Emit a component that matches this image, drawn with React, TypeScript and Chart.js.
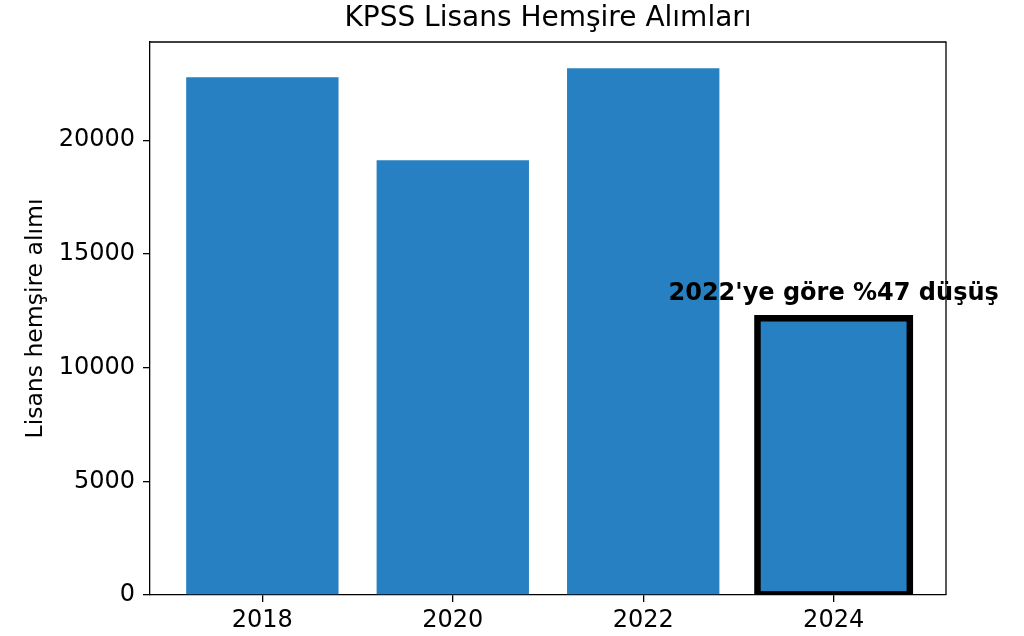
import React, { useEffect, useRef } from "react";
import { Chart, registerables } from "chart.js";

Chart.register(...registerables);

const titleText = "KPSS Lisans Hemşire Alımları";
const yAxisLabel = "Lisans hemşire alımı";
const years = ["2018", "2020", "2022", "2024"];
const hires = [22770, 19120, 23170, 12170];
const yTicks = [0, 5000, 10000, 15000, 20000];
const annotationText = "2022'ye göre %47 düşüş";
const highlightIndex = 3;

const FONT = "'DejaVu Sans', sans-serif";

export default function App() {
  const ref = useRef<HTMLCanvasElement | null>(null);

  useEffect(() => {
    const canvas = ref.current;
    if (!canvas) return;
    document.body.style.margin = "0";

    const overlay = {
      id: "overlay",
      afterDatasetsDraw(chart: any) {
        const ctx = chart.ctx;
        const meta = chart.getDatasetMeta(0);
        const el: any = meta.data[highlightIndex];
        if (el) {
          const p = el.getProps(["x", "y", "base", "width"], true);
          ctx.save();
          ctx.beginPath();
          ctx.rect(chart.chartArea.left, chart.chartArea.top, chart.chartArea.right - chart.chartArea.left, chart.chartArea.bottom - chart.chartArea.top);
          ctx.clip();
          ctx.strokeStyle = "#000";
          ctx.lineWidth = 6.5;
          ctx.strokeRect(p.x - p.width / 2, p.y, p.width, p.base - p.y);
          ctx.restore();
          ctx.save();
          ctx.fillStyle = "#000";
          ctx.font = `bold 24px ${FONT}`;
          ctx.textAlign = "center";
          ctx.textBaseline = "middle";
          ctx.fillText(annotationText, p.x, p.y - 25);
          ctx.restore();
        }
      },
      afterDraw(chart: any) {
        const ctx = chart.ctx;
        const a = chart.chartArea;
        ctx.save();
        ctx.strokeStyle = "#000";
        ctx.lineWidth = 1.3;
        ctx.beginPath();
        ctx.moveTo(a.left, a.top);
        ctx.lineTo(a.right, a.top);
        ctx.lineTo(a.right, a.bottom);
        ctx.stroke();
        ctx.fillStyle = "#000";
        ctx.font = `28px ${FONT}`;
        ctx.textAlign = "center";
        ctx.textBaseline = "middle";
        ctx.fillText(titleText, (a.left + a.right) / 2, 19);
        ctx.restore();
      },
    };

    const chart = new Chart(canvas, {
      type: "bar",
      data: {
        datasets: [
          {
            data: hires.map((v, i) => ({ x: i, y: v })),
            backgroundColor: "#2680c1",
            borderWidth: 0,
            barPercentage: 1,
            categoryPercentage: 0.8,
          },
        ],
      },
      options: {
        animation: false,
        responsive: true,
        maintainAspectRatio: false,
        devicePixelRatio: 1,
        layout: { padding: { top: 42, left: 0, right: 78, bottom: 0 } },
        plugins: {
          legend: { display: false },
          tooltip: { enabled: false },
          title: { display: false },
        },
        scales: {
          x: {
            type: "linear",
            offset: false,
            min: -0.59,
            max: 3.59,
            afterBuildTicks: (scale: any) => {
              scale.ticks = years.map((_, i) => ({ value: i }));
            },
            afterFit: (scale: any) => {
              scale.height = 41;
            },
            ticks: {
              color: "#000",
              font: { family: FONT, size: 24 },
              padding: 4,
              maxRotation: 0,
              autoSkip: false,
              callback: (v: any) => years[v as number] ?? "",
            },
            grid: {
              display: true,
              offset: false,
              drawOnChartArea: false,
              drawTicks: true,
              tickLength: 7,
              color: "#000",
              lineWidth: 1.3,
            },
            border: { display: true, color: "#000", width: 1.3 },
          },
          y: {
            type: "linear",
            min: 0,
            max: 24320,
            afterBuildTicks: (scale: any) => {
              scale.ticks = yTicks.map((v) => ({ value: v }));
            },
            afterFit: (scale: any) => {
              scale.width = 150;
            },
            ticks: {
              color: "#000",
              font: { family: FONT, size: 24 },
              padding: 8,
              autoSkip: false,
              callback: (v: any) => String(v),
            },
            grid: {
              display: true,
              drawOnChartArea: false,
              drawTicks: true,
              tickLength: 7,
              color: "#000",
              lineWidth: 1.3,
            },
            border: { display: true, color: "#000", width: 1.3 },
            title: {
              display: true,
              text: yAxisLabel,
              color: "#000",
              font: { family: FONT, size: 23.5 },
              padding: { top: 22, bottom: 0 },
            },
          },
        },
      },
      plugins: [overlay],
    } as any);

    return () => chart.destroy();
  }, []);

  return (
    <div style={{ position: "absolute", left: 0, top: 0, width: 1024, height: 636 }}>
      <canvas ref={ref} />
    </div>
  );
}
